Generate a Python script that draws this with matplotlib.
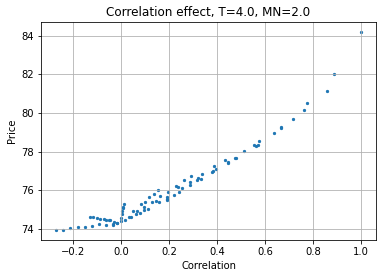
import matplotlib
matplotlib.use("Agg")
import matplotlib.pyplot as plt

# correlation vs price
corr = [
    -0.270, -0.242, -0.212, -0.179, -0.150, -0.121, -0.129, -0.118, -0.100, -0.088,
    -0.092, -0.071, -0.061, -0.050, -0.062, -0.033, -0.028, -0.015, -0.044, -0.032,
    -0.017, 0.000, 0.000, 0.004, 0.006, 0.007, 0.008, 0.012, 0.017, 0.032,
    0.043, 0.050, 0.064, 0.068, 0.079, 0.083, 0.095, 0.096, 0.100, 0.112,
    0.117, 0.129, 0.137, 0.147, 0.154, 0.158, 0.162, 0.192, 0.193, 0.192,
    0.196, 0.222, 0.229, 0.237, 0.240, 0.254, 0.262, 0.287, 0.287, 0.292,
    0.318, 0.322, 0.333, 0.337, 0.379, 0.383, 0.387, 0.395, 0.433, 0.446,
    0.447, 0.475, 0.479, 0.512, 0.554, 0.561, 0.571, 0.577, 0.637, 0.667,
    0.667, 0.717, 0.762, 0.775, 0.858, 0.887, 1.000,
]
price = [
    73.95, 73.98, 74.04, 74.09, 74.12, 74.14, 74.61, 74.61, 74.55, 74.52,
    74.24, 74.50, 74.45, 74.45, 74.19, 74.21, 74.35, 74.30, 74.47, 74.27,
    74.31, 74.43, 74.60, 74.78, 74.95, 75.07, 75.16, 75.30, 74.45, 74.64,
    74.64, 74.92, 74.78, 74.95, 74.81, 75.28, 75.16, 74.98, 75.41, 75.02,
    75.64, 75.41, 75.80, 75.43, 76.00, 75.38, 75.73, 75.67, 75.57, 75.50,
    75.90, 75.76, 76.22, 76.16, 75.93, 76.11, 76.52, 76.42, 76.26, 76.73,
    76.54, 76.63, 76.58, 76.83, 76.94, 77.00, 77.25, 77.09, 77.56, 77.49,
    77.40, 77.66, 77.66, 78.03, 78.35, 78.30, 78.35, 78.55, 78.96, 79.27,
    79.22, 79.68, 80.15, 80.51, 81.13, 82.02, 84.19,
]

T = 4.0
MN = 2.0

fig = plt.figure(figsize=(382 / 72, 278 / 72), dpi=72)
ax = fig.add_axes([41 / 382, 38 / 278, 335 / 382, 218 / 278])
ax.scatter(corr, price, s=5)
ax.set_xlabel('Correlation')
ax.set_ylabel('Price')
ax.set_title(f'Correlation effect, T={T}, MN={MN}')
ax.grid(True)
fig.savefig("out.png", dpi=72)
